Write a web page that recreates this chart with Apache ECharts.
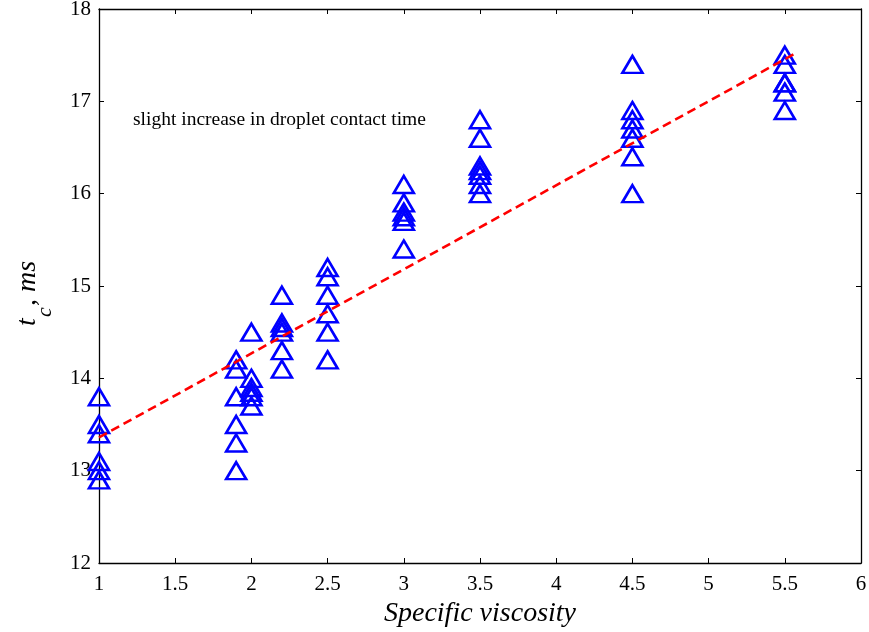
<!DOCTYPE html>
<html>
<head>
<meta charset="utf-8">
<script src="https://cdn.jsdelivr.net/npm/echarts@6/dist/echarts.min.js"></script>
<style>
html,body{margin:0;padding:0;background:#fff;}
#chart{width:869px;height:632px;}
</style>
</head>
<body>
<div id="chart"></div>
<script>
// Specific viscosity groups and measured contact times (ms)
const viscosity = [1, 1.9, 2, 2.2, 2.5, 3, 3.5, 4.5, 5.5];
const contactTimes = [
  [13.8, 13.5, 13.4, 13.1, 13.0, 12.9],
  [14.2, 14.1, 13.8, 13.5, 13.3, 13.0],
  [14.5, 14.0, 13.9, 13.85, 13.8, 13.7],
  [14.9, 14.6, 14.55, 14.5, 14.3, 14.1],
  [15.2, 15.1, 14.9, 14.7, 14.5, 14.2],
  [16.1, 15.9, 15.8, 15.75, 15.7, 15.4],
  [16.8, 16.6, 16.3, 16.25, 16.2, 16.1, 16.0],
  [17.4, 16.9, 16.8, 16.7, 16.6, 16.4, 16.0],
  [17.5, 17.4, 17.2, 17.2, 17.1, 16.9]
];
const fitX = [1, 5.57];
const fitY = [13.36, 17.52];
const xTicks = [1, 1.5, 2, 2.5, 3, 3.5, 4, 4.5, 5, 5.5, 6];
const yTicks = [12, 13, 14, 15, 16, 17, 18];
const annotation = 'slight increase in droplet contact time';

const points = [];
viscosity.forEach((v, i) => contactTimes[i].forEach(t => points.push([v, t])));
const fitLine = fitX.map((x, i) => [x, fitY[i]]);

const FONT = '"Liberation Serif", "Times New Roman", serif';
const axisLine = {show: true, lineStyle: {color: '#000', width: 1.3}};
const tick = {show: true, inside: true, length: 5, lineStyle: {color: '#000', width: 1}};

const chart = echarts.init(document.getElementById('chart'), null, {renderer: 'canvas'});
chart.setOption({
  animation: false,
  backgroundColor: '#fff',
  grid: {left: 99, right: 8, top: 9, bottom: 69, containLabel: false, outerBoundsMode: 'none'},
  xAxis: [{
    type: 'value', min: xTicks[0], max: xTicks[xTicks.length - 1], interval: 0.5,
    position: 'bottom',
    axisLine: axisLine, axisTick: tick, splitLine: {show: false},
    axisLabel: {color: '#000', fontFamily: FONT, fontSize: 21, margin: 11},
    name: 'Specific viscosity', nameLocation: 'middle', nameGap: 34,
    nameTextStyle: {color: '#000', fontFamily: FONT, fontSize: 28, fontStyle: 'italic'}
  }, {
    type: 'value', min: xTicks[0], max: xTicks[xTicks.length - 1], interval: 0.5,
    position: 'top',
    axisLine: axisLine, axisTick: tick, splitLine: {show: false},
    axisLabel: {show: false}
  }],
  yAxis: [{
    type: 'value', min: yTicks[0], max: yTicks[yTicks.length - 1], interval: 1,
    position: 'left',
    axisLine: axisLine, axisTick: tick, splitLine: {show: false},
    axisLabel: {color: '#000', fontFamily: FONT, fontSize: 21, margin: 8}
  }, {
    type: 'value', min: yTicks[0], max: yTicks[yTicks.length - 1], interval: 1,
    position: 'right',
    axisLine: axisLine, axisTick: tick, splitLine: {show: false},
    axisLabel: {show: false}
  }],
  graphic: [
    {
      type: 'text', left: 133, top: 110,
      style: {text: annotation, fill: '#000', font: '19.5px ' + FONT}
    },
    {
      type: 'group', x: 28, y: 282, rotation: Math.PI / 2,
      children: [
        {type: 'text', x: -44, y: 0, style: {text: 't', fill: '#000', font: 'italic 28px ' + FONT, textAlign: 'left', textVerticalAlign: 'middle'}},
        {type: 'text', x: -35, y: 17, style: {text: 'c', fill: '#000', font: 'italic 22px ' + FONT, textAlign: 'left', textVerticalAlign: 'middle'}},
        {type: 'text', x: -24, y: 0, style: {text: ', ms', fill: '#000', font: 'italic 28px ' + FONT, textAlign: 'left', textVerticalAlign: 'middle'}}
      ]
    }
  ],
  series: [
    {
      type: 'line', data: fitLine, symbol: 'none', silent: true, z: 3,
      lineStyle: {color: '#ff0000', width: 2.6, type: [9, 5]}
    },
    {
      type: 'scatter', data: points, symbol: 'triangle', symbolSize: [20, 17],
      clip: false, z: 2,
      itemStyle: {color: 'rgba(0,0,0,0)', borderColor: '#0000ff', borderWidth: 2.6, opacity: 1}
    }
  ]
});
</script>
</body>
</html>
